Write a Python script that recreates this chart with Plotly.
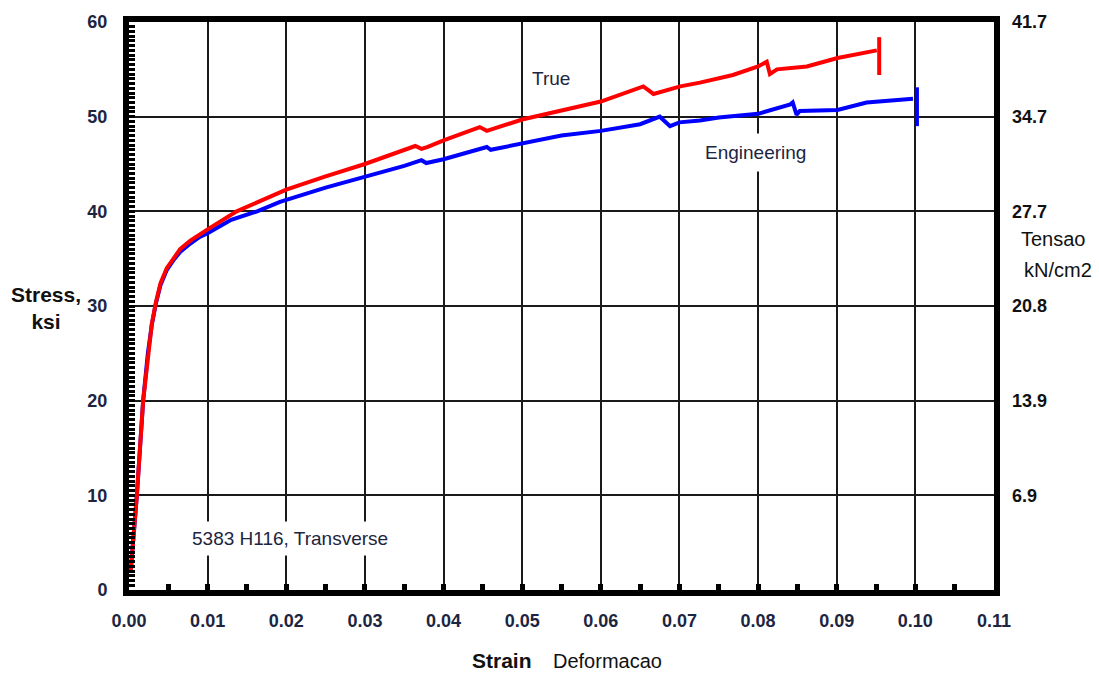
import plotly.graph_objects as go

# Engineering stress-strain curve (strain, ksi)
eng_strain = [0.0002, 0.0010, 0.0018, 0.0024, 0.0029, 0.0034, 0.0040, 0.0048, 0.0057,
              0.0065, 0.0078, 0.0090, 0.0100, 0.0130, 0.0163, 0.0192, 0.0250, 0.0300,
              0.0350, 0.0372, 0.0378, 0.0400, 0.0455, 0.0460, 0.0500, 0.0550, 0.0600,
              0.0650, 0.0675, 0.0688, 0.0700, 0.0726, 0.0750, 0.0800, 0.0841, 0.0844,
              0.0849, 0.0853, 0.0901, 0.0938, 0.0997]
eng_stress = [1.8, 10.0, 20.0, 25.0, 28.0, 30.2, 32.2, 33.8, 34.9,
              35.7, 36.6, 37.3, 37.7, 39.1, 40.0, 41.0, 42.5, 43.6,
              44.8, 45.4, 45.1, 45.5, 46.8, 46.5, 47.2, 48.0, 48.5,
              49.2, 50.0, 49.0, 49.4, 49.6, 49.9, 50.3, 51.3, 51.5,
              50.2, 50.6, 50.7, 51.5, 51.9]

# True stress-strain curve
true_strain = [0.0002, 0.0010, 0.0018, 0.0024, 0.0029, 0.0034, 0.0040, 0.0048, 0.0057,
               0.0065, 0.0078, 0.0090, 0.0100, 0.0137, 0.0192, 0.0200, 0.0250, 0.0300,
               0.0364, 0.0372, 0.0380, 0.0400, 0.0446, 0.0455, 0.0500, 0.0550, 0.0600,
               0.0654, 0.0667, 0.0701, 0.0726, 0.0768, 0.0800, 0.0811, 0.0815, 0.0824,
               0.0862, 0.0901, 0.0951]
true_stress = [1.8, 10.0, 20.0, 25.0, 28.1, 30.3, 32.4, 34.0, 35.1,
               36.0, 36.9, 37.6, 38.1, 40.0, 42.0, 42.3, 43.7, 45.0,
               46.9, 46.6, 46.8, 47.5, 48.9, 48.5, 49.7, 50.6, 51.6,
               53.2, 52.4, 53.2, 53.6, 54.4, 55.3, 55.8, 54.5, 55.0,
               55.3, 56.2, 57.0]

# Fracture markers (strain, stress span)
eng_break_strain = [0.1002, 0.1002]
eng_break_stress = [53.1, 49.0]
true_break_strain = [0.0954, 0.0954]
true_break_stress = [58.4, 54.4]

# Axis ticks
x_ticks = [0.00, 0.01, 0.02, 0.03, 0.04, 0.05, 0.06, 0.07, 0.08, 0.09, 0.10, 0.11]
y_ticks = [0, 10, 20, 30, 40, 50, 60]
si_vals = [10, 20, 30, 40, 50, 60]
si_text = ["6.9", "13.9", "20.8", "27.7", "34.7", "41.7"]

BLUE = "#0000ff"
RED = "#ff0000"
TXT = "#1c2541"
FONT = "Liberation Sans, Arial, sans-serif"

fig = go.Figure()
fig.add_trace(go.Scatter(x=eng_strain, y=eng_stress, mode="lines",
                         line=dict(color=BLUE, width=4), hoverinfo="skip"))
fig.add_trace(go.Scatter(x=eng_break_strain, y=eng_break_stress, mode="lines",
                         line=dict(color=BLUE, width=4), hoverinfo="skip"))
fig.add_trace(go.Scatter(x=true_strain, y=true_stress, mode="lines",
                         line=dict(color=RED, width=4), hoverinfo="skip"))
fig.add_trace(go.Scatter(x=true_break_strain, y=true_break_stress, mode="lines",
                         line=dict(color=RED, width=4), hoverinfo="skip"))
# invisible trace that carries the SI axis
fig.add_trace(go.Scatter(x=[0], y=[0], yaxis="y2", mode="markers",
                         marker=dict(opacity=0), hoverinfo="skip"))

fig.update_layout(
    width=1099, height=675,
    margin=dict(l=129, r=105, t=17, b=85),
    paper_bgcolor="white", plot_bgcolor="white",
    showlegend=False,
    font=dict(family=FONT, color=TXT),
    xaxis=dict(
        range=[0, 0.11], tickvals=x_ticks, ticktext=[f"{v:.2f}" for v in x_ticks],
        showgrid=True, gridcolor="#1a1a1a", gridwidth=1.5, zeroline=False,
        showline=True, linecolor="black", linewidth=6, mirror=True,
        ticks="inside", ticklen=6, tickwidth=5, tickcolor="black",
        minor=dict(dtick=0.005, tick0=0, ticks="inside", ticklen=6, tickwidth=5,
                   tickcolor="black", showgrid=False),
        tickfont=dict(size=18, family=FONT, color=TXT, weight="bold"),
        ticklabelstandoff=9,
    ),
    yaxis=dict(
        range=[0, 60], tickvals=y_ticks,
        showgrid=True, gridcolor="#1a1a1a", gridwidth=1.5, zeroline=False,
        showline=True, linecolor="black", linewidth=6, mirror=True,
        ticks="inside", ticklen=6, tickwidth=3, tickcolor="black",
        minor=dict(dtick=0.5, tick0=0, ticks="inside", ticklen=6, tickwidth=3,
                   tickcolor="black", showgrid=False),
        tickfont=dict(size=18, family=FONT, color=TXT, weight="bold"),
        ticklabelstandoff=12,
    ),
    yaxis2=dict(
        range=[0, 60], overlaying="y", side="right",
        tickvals=si_vals, ticktext=si_text,
        showgrid=False, zeroline=False, showline=False, ticks="",
        tickfont=dict(size=18, family=FONT, color="#111", weight="bold"),
        ticklabelstandoff=17,
    ),
)

def note(text, x, y, size=19, bold=False, bg=None, pad=3, color=TXT):
    fig.add_annotation(
        text=f"<b>{text}</b>" if bold else text,
        x=x, y=y, xref="paper", yref="paper", showarrow=False,
        xanchor="center", yanchor="middle",
        font=dict(size=size, family=FONT, color=color),
        bgcolor=bg, borderpad=pad,
    )

# plot area spans x 129..994, y 17..590 in a 1099x675 page
def px(x):
    return (x - 129) / 865

def py(y):
    return (590 - y) / 573

note("True", px(551), py(74), 19)
note("Engineering", px(755), py(149), 19, bg="white", pad=8)
note("5383 H116, Transverse", px(290), py(538), 19, bg="white", pad=6)
note("Stress,<br>ksi", px(46), py(306), 21, bold=True, color="#111")
note("Strain", px(502), py(661), 21, bold=True, color="#111")
note("Deformacao", px(607), py(662), 20, color="#111")
note("Tensao", px(1053), py(236), 20, color="#111")
note("kN/cm2", px(1058), py(267), 20, color="#111")

fig.write_html("out.html")
